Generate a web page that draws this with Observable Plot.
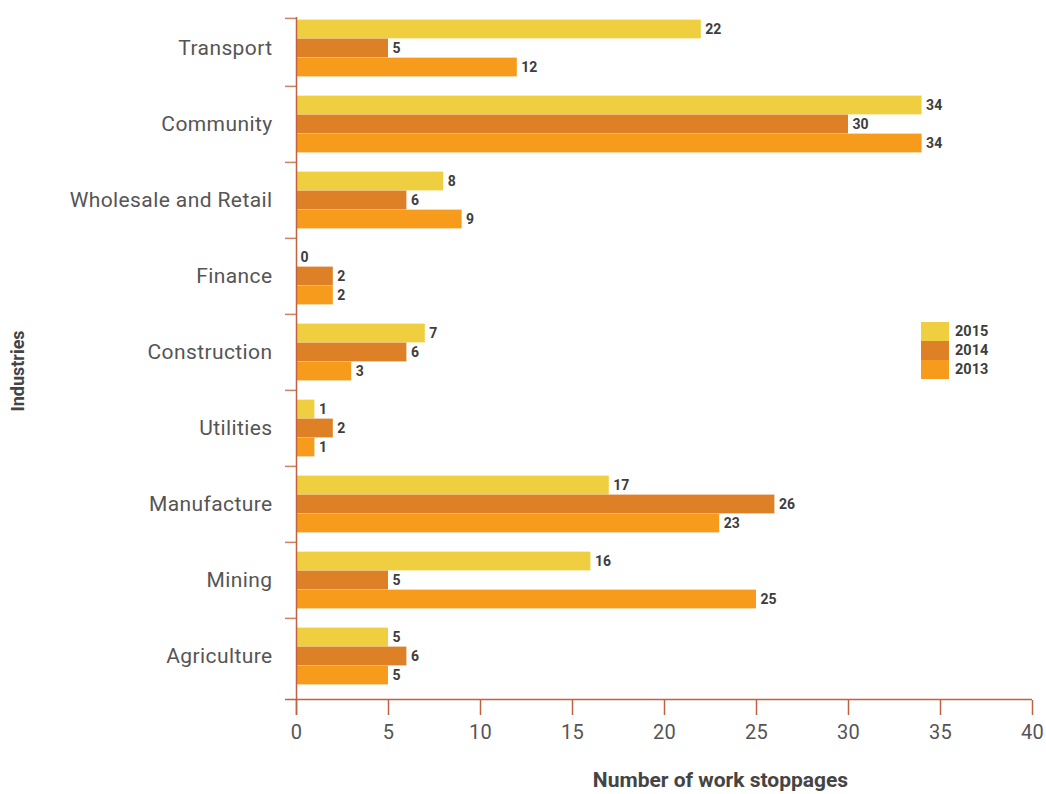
<!DOCTYPE html>
<html><head><meta charset="utf-8">
<script src="https://cdn.jsdelivr.net/npm/d3@7"></script>
<script src="https://cdn.jsdelivr.net/npm/@observablehq/plot@0.6"></script>
<style>
body{margin:0;background:#fff;font-family:Roboto, sans-serif;}
#wrap{position:relative;width:1046px;height:794px;}
#legend{position:absolute;left:921px;top:322px;}
.sw{display:flex;align-items:center;height:19px;}
.sw .box{width:28px;height:19px;display:inline-block;}
.sw .t{margin-left:6px;font-weight:bold;font-size:14.5px;color:#3d3d3d;}
g[aria-label="y-axis tick label"] text{letter-spacing:0.4px;}
g[aria-label="x-axis tick label"] text{letter-spacing:0.3px;}
</style></head><body>
<div id="wrap"><div id="chart"></div><div id="legend"></div></div>
<script>
const industries = ["Transport","Community","Wholesale and Retail","Finance","Construction","Utilities","Manufacture","Mining","Agriculture"];
const years = ["2015","2014","2013"];
const colors = ["#EFCF40","#DE8026","#F79B1C"];
const values2015 = [22,34,8,0,7,1,17,16,5];
const values2014 = [5,30,6,2,6,2,26,5,6];
const values2013 = [12,34,9,2,3,1,23,25,5];
const xTicks = [0,5,10,15,20,25,30,35,40];
const xTitle = "Number of work stoppages";
const yTitle = "Industries";

const series = [values2015, values2014, values2013];
const rows = [];
industries.forEach((ind, i) => years.forEach((yr, j) => rows.push({industry: ind, year: yr, value: series[j][i]})));

const W = 1046, H = 794, mT = 17, mB = 94, mL = 296, mR = 14;
const frameBottom = H - mB;
const yRange = [9, 695];
const bw = (yRange[1] - yRange[0]) / industries.length;
const barH = 19;
const inset = (bw - barH) / 2;
const offsets = {"2015": -barH, "2014": 0, "2013": barH};
const axisColor = "#c0623f";
const textGray = "#555";

const marks = [];
years.forEach(yr => {
  const sub = rows.filter(d => d.year === yr);
  marks.push(Plot.barX(sub, {x: "value", y: "industry", fill: "year", dy: offsets[yr], insetTop: inset, insetBottom: inset}));
  marks.push(Plot.text(sub, {x: "value", y: "industry", text: d => String(d.value), dx: 4, dy: offsets[yr], textAnchor: "start", fontWeight: "bold", fontSize: 14, fill: "#3d3d3d"}));
});
marks.push(Plot.ruleX([0], {stroke: axisColor, strokeWidth: 1.5, insetBottom: -15}));
marks.push(Plot.ruleY([industries[0]], {y: d => d, dy: -bw / 2 + (mT - yRange[0]), x1: 0, x2: 0, insetLeft: -11, stroke: axisColor, strokeOpacity: 0.8, strokeWidth: 1.5}));
marks.push(Plot.ruleY(industries.slice(1), {y: d => d, dy: -bw / 2, x1: 0, x2: 0, insetLeft: -11, stroke: axisColor, strokeOpacity: 0.8, strokeWidth: 1.5}));
marks.push(Plot.ruleY([industries[industries.length - 1]], {y: d => d, dy: bw / 2 + (frameBottom - yRange[1]), x1: 0, x2: 40, insetLeft: -11, stroke: axisColor, strokeWidth: 1.5}));
marks.push(Plot.axisX({ticks: xTicks, tickSize: 15, tickPadding: 9, fontSize: 20, fill: textGray, stroke: axisColor, strokeWidth: 1.5, label: null}));
marks.push(Plot.axisY({tickSize: 0, tickPadding: 24, fontSize: 21, fill: textGray, label: null}));
marks.push(Plot.text([xTitle], {frameAnchor: "bottom", dy: 86, dx: 56, textAnchor: "middle", fontWeight: "bold", fontSize: 21, fill: "#444"}));
marks.push(Plot.text([yTitle], {frameAnchor: "left", rotate: -90, dx: -278, dy: 12, textAnchor: "middle", fontWeight: "bold", fontSize: 18, fill: "#444"}));

const chart = Plot.plot({
  width: W, height: H,
  marginTop: mT, marginBottom: mB, marginLeft: mL, marginRight: mR,
  style: {fontFamily: "Roboto, sans-serif", background: "#fff"},
  x: {domain: [0, 40]},
  y: {domain: industries, padding: 0, range: yRange},
  color: {domain: years, range: colors},
  marks
});
document.getElementById("chart").appendChild(chart);

const leg = document.getElementById("legend");
years.forEach((yr, j) => {
  const row = document.createElement("div");
  row.className = "sw";
  row.innerHTML = `<span class="box" style="background:${colors[j]}"></span><span class="t">${yr}</span>`;
  leg.appendChild(row);
});
</script>
</body></html>
